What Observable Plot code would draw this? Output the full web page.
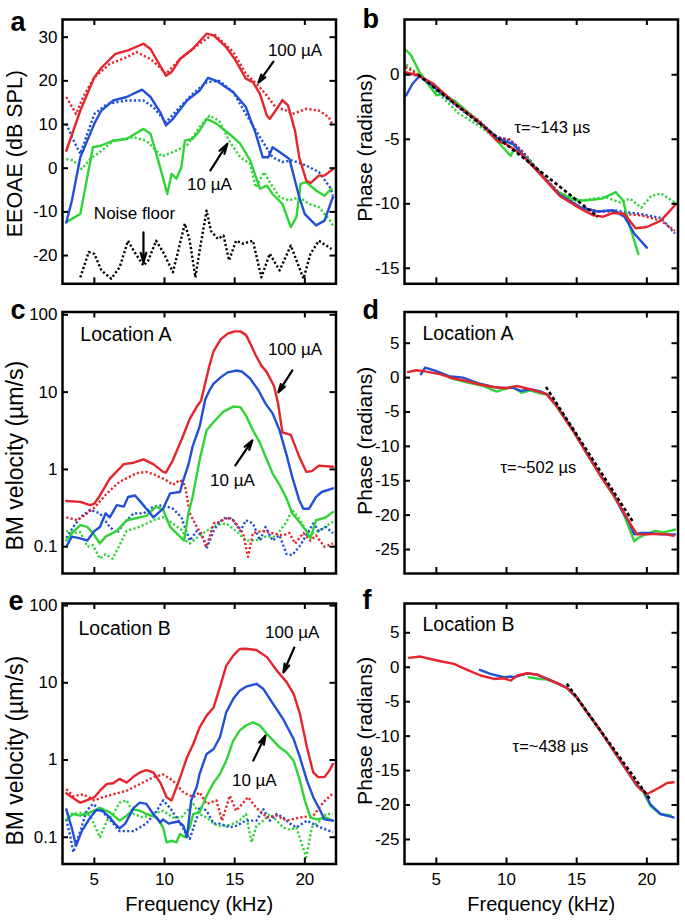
<!DOCTYPE html>
<html><head><meta charset="utf-8">
<script src="https://cdn.jsdelivr.net/npm/d3@7"></script>
<script src="https://cdn.jsdelivr.net/npm/@observablehq/plot@0.6"></script>
<style>
body{margin:0;background:#fff;}
#wrap{position:relative;width:685px;height:921px;overflow:hidden;background:#fff;}
#wrap svg{position:absolute;}
</style></head><body><div id="wrap"></div>
<script>
// ---------------- data (frequency kHz, value) ----------------
const xTicks = [5, 10, 15, 20];

// Panel a: EEOAE (dB SPL)
const aRed = [[3.0,4],[4.0,13.2],[5,20.8],[5.5,23],[6.5,26.2],[7.4,27],[8.5,28.5],[9,27.3],[10.1,21.2],[10.5,22],[11.1,25],[12,27.3],[13,30.8],[13.5,30.4],[14.4,27.7],[15,25],[15.8,20.5],[16.3,19.7],[16.8,17],[17.3,12],[17.5,11.3],[18,13.6],[18.4,15.6],[18.8,14.4],[19.3,8.6],[19.6,2.5],[20.1,-2.8],[20.4,-3.4],[21,-1.7],[21.4,-1.7],[22,-0.2]];
const aRedDot = [[3.0,16.3],[3.7,12.4],[4.2,16.3],[5,20.8],[6.1,23.9],[7.3,25.4],[8,26.6],[9,25],[9.7,23],[10.1,21.6],[11.1,25],[12.5,28.5],[13.5,30.8],[14.9,26.6],[15.8,21.6],[16.8,18.5],[17.3,16.6],[17.9,14],[18.7,13.2],[19.1,12.4],[20.1,13.6],[21,13.2],[21.7,11.7],[22,9.8]];
const aBlue = [[3.0,-12.4],[3.4,-7.4],[4,2.5],[5,10.2],[5.5,13.2],[6.35,15.5],[7.3,16.3],[8.4,18],[9,16.3],[9.7,12.8],[10.1,9.8],[10.6,11.3],[11.6,15.5],[12.5,17.8],[13.1,20.7],[13.7,20],[14.9,17.4],[15.8,14],[16.5,7.9],[17,2.5],[17.4,2.5],[17.7,4.8],[18.2,3.7],[18.9,2.1],[19.6,-6.6],[20,-10.5],[20.8,-13.1],[21.4,-12],[22,-6.6]];
const aBlueDot = [[3.0,10.2],[3.4,7.1],[4,3.3],[4.5,7.9],[5,12.4],[5.9,14.7],[7.3,15.5],[8.5,15.5],[9.2,14],[10.1,10.5],[11.1,14],[12,17],[13,19.7],[13.9,20],[14.9,17.4],[15.8,12.4],[16.8,7.1],[17.7,2.5],[18.4,1.4],[19.1,1.8],[20.1,0.6],[21,-0.9],[21.8,-4.4],[22,-6.3]];
const aGreen = [[3.0,-12.4],[3.4,-11.6],[4,-10.5],[4.9,4.8],[5.5,5.2],[6.35,6.3],[7.3,6.7],[8.5,9],[9,7.9],[9.55,1.8],[10.2,-5.9],[10.5,-1.3],[10.85,-2.4],[11.2,0.2],[11.45,6.3],[12,6.7],[12.5,8.6],[13,11.3],[13.7,10.2],[14.6,7.9],[15.4,5.6],[16.1,1.8],[16.8,-4.7],[17.3,-4],[17.7,-5.9],[18.4,-8.2],[19,-13.5],[19.4,-11.2],[19.7,-3.6],[20.1,-3.2],[20.8,-5.1],[21.4,-6.3],[21.9,-4.7]];
const aGreenDot = [[3.0,2.1],[3.5,1.8],[4.1,-0.2],[4.7,2.1],[5.4,3.7],[6.35,6.3],[7.8,7.1],[8.7,6.3],[9.4,4],[9.8,2.7],[10.6,3.7],[11.6,5.2],[12.5,9.4],[13.2,12],[13.9,10.9],[14.6,6.3],[15.4,2.5],[16.1,1],[16.5,-4.4],[17.1,-0.9],[17.5,-3.2],[18.2,-6.6],[18.9,-7.4],[19.6,-6.6],[20.3,-8.2],[21,-8.9],[21.8,-12],[22,-13.1]];
const aNoise = [[4,-25],[4.6,-19.2],[5,-19.6],[5.5,-23.4],[6.2,-25.3],[6.8,-22.7],[7.4,-16.6],[7.8,-18.9],[8.5,-22.3],[8.85,-21.1],[9.4,-16.6],[9.9,-19.2],[10.6,-23.8],[11.45,-12.7],[11.8,-16.6],[12.2,-25],[12.5,-18.9],[13,-9.7],[13.3,-14.3],[13.8,-16.2],[14.2,-15.4],[14.6,-21.1],[15.1,-16.6],[15.6,-17.3],[16.3,-16.6],[16.9,-25],[17.5,-19.6],[18.2,-23.4],[19,-17.7],[19.9,-25.3],[20.4,-19.6],[21,-16.6],[21.9,-18.5]];

// Panel b: phase (radians)
const bRed = [[2.8,0.2],[3.8,-0.1],[4.8,-0.7],[6.4,-2.3],[8.1,-3.7],[9.3,-5.1],[10,-5.4],[11,-6.1],[12.4,-7.7],[13.8,-9.4],[15.3,-10.4],[16.2,-10.9],[16.9,-11],[17.6,-10.7],[18.4,-10.8],[19.2,-11.9],[20,-11.8],[21,-11.3],[22.1,-10]];
const bRedDot = [[2.8,0.6],[3.8,-0.05],[4.8,-0.8],[6.4,-2.2],[8.1,-3.6],[9.3,-4.9],[10.2,-5.0],[11,-5.8],[12.4,-7.6],[13.8,-9.2],[15.3,-10.3],[16.5,-10.6],[17.6,-10.6],[18.6,-10.8],[19.6,-10.9],[21,-11.3],[22,-12.1]];
const bBlue = [[2.85,-1.6],[3.3,-0.7],[3.8,-0.1],[4.8,-0.9],[6.4,-2.3],[8.1,-3.7],[9.3,-4.9],[10.5,-5.4],[12.4,-7.7],[13.8,-9.3],[15.3,-10.3],[16.5,-10.6],[17.6,-10.5],[18.4,-11],[19.1,-12.3],[20,-13.4]];
const bBlueDot = [[2.8,0.1],[3.8,-0.1],[4.8,-1],[6.4,-2.4],[8.1,-3.8],[9.3,-4.8],[10.3,-5.1],[11.2,-6],[12.4,-7.6],[13.8,-9.3],[15.3,-10.3],[16.5,-10.6],[17.6,-10.5],[19.6,-10.8],[21,-11.1],[22,-12.3]];
const bGreen = [[2.85,1.9],[3.2,1.5],[3.8,0.2],[4.5,-0.85],[5,-1.6],[5.5,-1.5],[6.4,-2.1],[8.1,-3.7],[9.3,-5.1],[10.3,-6.3],[10.5,-5.8],[11.4,-6.4],[13.5,-9],[14.9,-9.75],[15.6,-9.75],[16.8,-9.6],[17.8,-9.1],[18.3,-9.75],[18.8,-11.8],[19.4,-13.9]];
const bGreenDot = [[2.85,0.8],[3.8,-0.1],[5.2,-1.5],[6.6,-3],[8.1,-4],[9.3,-5],[10.3,-5.3],[11.4,-6.3],[13.5,-9],[15.2,-9.75],[16.2,-9.6],[17.1,-9.5],[18.1,-9.9],[18.8,-9.6],[19.6,-10.3],[20.3,-9.4],[21,-9.2],[22,-9.9]];
const bFit = [[3.7,0],[16.5,-11]];

// Panel c: BM velocity, location A (µm/s)
const cRed = [[3.0,0.39],[4.0,0.38],[4.7,0.345],[5,0.36],[5.4,0.46],[6.1,0.76],[7.1,1.17],[7.8,1.22],[8.5,1.35],[9.2,1.17],[9.9,0.93],[10.1,0.91],[10.6,1.32],[11.3,2.65],[11.8,4.5],[12.3,6.5],[12.6,7.7],[12.9,13],[13.2,22],[13.5,34],[14.0,48],[14.5,57],[15.0,61],[15.4,61],[15.8,55],[16.1,43],[16.5,30],[16.9,22],[17.3,18],[17.8,12],[18.1,7],[18.4,3.0],[18.7,2.9],[19,2.8],[19.6,1.46],[20.1,0.93],[20.5,0.95],[21,1.12],[22,1.08]];
const cRedDot = [[3.0,0.24],[3.8,0.22],[4.5,0.27],[5,0.32],[5.9,0.49],[6.8,0.69],[8,0.89],[8.7,0.93],[9.4,0.84],[10.1,0.73],[10.6,0.63],[11.1,0.73],[11.45,0.63],[11.8,0.27],[12.3,0.18],[12.6,0.15],[13,0.1],[13.5,0.2],[13.9,0.21],[14.6,0.24],[15,0.21],[15.6,0.15],[15.95,0.074],[16.3,0.15],[17,0.16],[17.7,0.15],[18.4,0.14],[18.9,0.15],[19.3,0.11],[19.9,0.15],[20.4,0.12],[20.8,0.14],[21.4,0.1],[22,0.11]];
const cBlue = [[3.0,0.1],[3.4,0.135],[4,0.128],[4.5,0.12],[5,0.16],[5.4,0.18],[5.8,0.27],[6.1,0.24],[6.6,0.345],[7.1,0.33],[7.4,0.44],[7.9,0.46],[8.3,0.38],[8.7,0.31],[9.2,0.24],[9.9,0.31],[10.4,0.49],[11.1,0.51],[11.3,0.69],[11.7,1.14],[12,1.97],[12.5,3.57],[12.9,8],[13.2,10.5],[13.5,12.9],[14,15.5],[14.5,18],[15.1,19],[15.5,18.5],[16.1,15],[16.7,10.5],[17.2,7.1],[17.7,5.3],[18.2,3.2],[18.7,1.53],[19.1,0.8],[19.6,0.4],[19.9,0.31],[20.3,0.31],[20.8,0.44],[21.2,0.51],[22,0.57]];
const cBlueDot = [[3.0,0.13],[3.5,0.18],[4,0.24],[4.7,0.3],[5.4,0.27],[6.1,0.18],[6.6,0.15],[7.1,0.2],[7.8,0.27],[8.5,0.27],[9.2,0.33],[9.9,0.345],[10.6,0.31],[11.2,0.24],[11.8,0.12],[12.3,0.16],[12.7,0.135],[13,0.095],[13.5,0.16],[13.9,0.21],[14.4,0.24],[14.9,0.22],[15.4,0.16],[15.8,0.22],[16.3,0.2],[16.8,0.12],[17.2,0.18],[17.7,0.12],[18.2,0.14],[18.7,0.08],[19.1,0.078],[19.6,0.1],[20.1,0.14],[20.6,0.2],[21,0.16],[21.5,0.18],[22,0.15]];
const cGreen = [[3.0,0.12],[3.5,0.156],[4,0.19],[4.5,0.18],[4.9,0.15],[5.4,0.11],[5.8,0.135],[6.6,0.16],[7.3,0.22],[7.8,0.23],[8.7,0.25],[9.4,0.33],[9.9,0.3],[10.4,0.18],[11.1,0.135],[11.4,0.12],[11.7,0.27],[12,0.44],[12.5,1.32],[13,3.2],[13.5,4.1],[14.2,5.6],[14.9,6.5],[15.4,6.4],[15.8,5],[16.3,3.2],[16.8,2.2],[17.2,1.46],[17.7,0.89],[18.2,0.63],[18.7,0.42],[19.1,0.27],[19.6,0.21],[20.1,0.16],[20.4,0.128],[20.8,0.22],[21.5,0.24],[22,0.28]];
const cGreenDot = [[3.0,0.16],[3.5,0.15],[4,0.155],[4.5,0.1],[4.9,0.105],[5.4,0.07],[5.8,0.08],[6.3,0.07],[6.8,0.105],[7.3,0.16],[8.2,0.18],[9.2,0.22],[9.9,0.24],[10.6,0.2],[11.3,0.16],[11.5,0.12],[11.8,0.11],[12.3,0.13],[13,0.16],[13.7,0.19],[14.4,0.2],[15.1,0.16],[15.8,0.12],[16.5,0.12],[17.2,0.135],[17.9,0.135],[18.7,0.21],[19.1,0.3],[19.6,0.23],[20.1,0.16],[20.6,0.15],[21,0.16],[22,0.21]];

// Panel d: phase, location A
const dRed = [[2.98,0.8],[3.57,1.07],[4.29,0.87],[5.24,0.5],[6.19,-0.1],[7.14,-0.5],[8.1,-1],[9.05,-1.36],[10,-1.55],[10.7,-1.2],[11.4,-1.55],[12.1,-1.94],[12.86,-2.4],[13.57,-4.1],[14.76,-7.8],[15.7,-11.0],[16.67,-14.2],[17.6,-17.0],[18.3,-19.4],[18.8,-21.2],[19.3,-22.8],[20,-22.8],[20.7,-22.7],[21.4,-22.8],[21.9,-23]];
const dBlue = [[3.9,0.5],[4.2,1.46],[4.9,1],[5.9,0.2],[6.9,0],[8.1,-0.9],[9.3,-1.46],[10.5,-1.5],[11,-1.94],[11.7,-1.7],[12.4,-2],[12.86,-2.4],[13.57,-4.1],[14.76,-7.7],[15.7,-10.9],[16.67,-14.1],[17.6,-16.9],[18.3,-19.6],[18.7,-20.9],[19.1,-22.8],[19.6,-22.6],[20.1,-22.6],[21,-22.8],[22,-22.8]];
const dGreen = [[5.95,-0.05],[7.14,-0.7],[8.33,-1.2],[9.29,-2.04],[10,-1.55],[10.48,-1.36],[11.07,-2.2],[11.67,-1.85],[12.38,-2.3],[12.86,-2.45],[13.57,-4.2],[14.76,-7.8],[15.7,-11.0],[16.67,-14.2],[17.6,-17.1],[18.3,-19.6],[18.8,-22.2],[19.1,-23.8],[19.4,-23.3],[19.9,-22.8],[20.6,-22.3],[21.2,-22.5],[22,-22.1]];
const dFit = [[12.81,-1.36],[19.05,-21.1]];

// Panel e: BM velocity, location B (µm/s)
const eRed = [[3.0,0.37],[3.4,0.33],[4.0,0.28],[4.45,0.3],[5.0,0.33],[5.4,0.4],[5.9,0.49],[6.35,0.5],[6.8,0.57],[7.3,0.51],[7.8,0.61],[8.25,0.69],[8.7,0.74],[9.2,0.69],[9.7,0.51],[10.15,0.33],[10.5,0.3],[10.85,0.44],[11.2,0.66],[11.6,1.08],[12.05,1.61],[12.5,2.65],[13,3.76],[13.5,4.8],[13.95,8.8],[14.4,16.7],[14.9,22.5],[15.35,27.4],[15.8,27.6],[16.55,26.6],[17.3,21.5],[18,14.4],[18.7,10.2],[19.2,7.2],[19.65,3.95],[20.15,1.46],[20.6,0.69],[20.95,0.6],[21.4,0.6],[21.75,0.73],[22,0.89]];
const eRedDot = [[3.0,0.42],[3.5,0.34],[4.2,0.36],[5.0,0.3],[5.6,0.33],[6.35,0.36],[7.3,0.4],[8.25,0.49],[9.2,0.6],[9.9,0.65],[10.6,0.54],[11.35,0.38],[12.05,0.33],[12.5,0.38],[13,0.27],[13.7,0.3],[14.1,0.164],[14.65,0.345],[15.1,0.22],[15.95,0.33],[16.55,0.24],[17.3,0.18],[18,0.19],[18.7,0.164],[19.65,0.18],[20.6,0.19],[21.3,0.28],[22,0.37]];
const eBlue = [[3.0,0.23],[3.4,0.13],[3.7,0.078],[4.1,0.12],[4.7,0.18],[5.15,0.225],[5.6,0.22],[6.1,0.18],[6.45,0.15],[6.8,0.13],[7.2,0.15],[7.8,0.24],[8.25,0.28],[8.7,0.27],[9.2,0.2],[9.7,0.155],[9.9,0.17],[10.3,0.15],[10.6,0.155],[11,0.16],[11.35,0.14],[11.6,0.1],[11.9,0.3],[12.3,0.45],[12.5,0.66],[13,1.2],[13.5,1.39],[13.95,1.97],[14.4,4.15],[14.9,6.2],[15.35,7.9],[15.8,8.9],[16.55,9.7],[17.05,8.3],[17.75,5.3],[18.45,3.4],[19.2,1.87],[19.65,1.08],[20.15,0.54],[20.6,0.33],[21.1,0.22],[21.4,0.17],[22,0.164]];
const eBlueDot = [[3.0,0.17],[3.3,0.1],[3.5,0.064],[4.0,0.12],[4.45,0.22],[4.9,0.27],[5.4,0.23],[6.1,0.17],[6.8,0.12],[7.8,0.12],[8.7,0.15],[9.45,0.22],[9.9,0.3],[10.4,0.24],[10.85,0.18],[11.45,0.12],[11.8,0.095],[12.3,0.18],[12.5,0.25],[13,0.22],[13.5,0.15],[13.95,0.15],[14.65,0.134],[15.1,0.14],[15.8,0.164],[16.55,0.164],[17.05,0.23],[17.5,0.164],[18,0.2],[18.45,0.18],[18.95,0.15],[19.4,0.134],[20.15,0.164],[21.1,0.134],[22,0.116]];
const eGreen = [[3.0,0.17],[3.5,0.2],[4.0,0.19],[4.7,0.21],[5.4,0.24],[6.1,0.21],[6.8,0.164],[7.3,0.19],[7.8,0.23],[8.25,0.22],[8.7,0.2],[9.45,0.18],[9.9,0.134],[10.15,0.086],[10.5,0.09],[10.85,0.086],[11.1,0.11],[11.45,0.1],[11.8,0.134],[12.05,0.2],[12.5,0.21],[13,0.345],[13.5,0.51],[13.95,0.66],[14.4,0.98],[14.9,1.78],[15.35,2.4],[15.8,2.8],[16.3,3.07],[16.8,2.8],[17.3,2.17],[17.75,1.78],[18.2,1.46],[18.7,1.26],[19.2,0.98],[19.65,0.54],[20,0.3],[20.4,0.18],[20.85,0.17],[21.5,0.18],[22,0.164]];
const eGreenDot = [[3.0,0.2],[3.5,0.2],[4.2,0.21],[4.7,0.19],[5.4,0.1],[5.9,0.164],[6.35,0.2],[6.8,0.28],[7.3,0.3],[7.8,0.2],[8.5,0.18],[9.2,0.2],[9.9,0.22],[10.6,0.18],[11.2,0.18],[11.6,0.22],[12.05,0.27],[12.5,0.2],[13,0.18],[13.5,0.15],[13.95,0.14],[14.4,0.14],[14.9,0.15],[15.35,0.164],[15.8,0.2],[16.2,0.086],[16.55,0.14],[17.05,0.164],[17.5,0.2],[18,0.164],[18.45,0.134],[18.95,0.125],[19.4,0.134],[19.8,0.08],[20.1,0.055],[20.5,0.134],[21.1,0.164],[21.5,0.2],[22,0.2]];

// Panel f: phase, location B
const fRed = [[3.04,1.36],[3.87,1.55],[4.58,1.2],[5.3,0.87],[6.25,0.48],[7.2,-0.39],[8.15,-1.2],[9.1,-1.7],[9.81,-1.6],[10.3,-1.94],[10.77,-1.2],[11.48,-0.87],[12.2,-1.07],[12.9,-1.7],[13.6,-2.3],[14.3,-3],[15,-4.36],[15.73,-6.5],[16.68,-9.2],[17.63,-12.1],[18.58,-15],[19.53,-17.7],[20,-18.4],[20.5,-17.9],[20.96,-17.4],[21.44,-16.8],[21.9,-16.7]];
const fBlue = [[8.1,-0.39],[8.86,-0.97],[9.81,-1.45],[10.3,-1.35],[10.5,-1.45],[11.48,-0.9],[12.2,-1.1],[12.9,-1.7],[13.6,-2.3],[14.3,-3],[15,-4.4],[15.73,-6.5],[16.68,-9.2],[17.63,-12.1],[18.58,-15],[19.3,-17.2],[19.77,-17.9],[20.25,-19.9],[20.96,-21.3],[21.9,-21.8]];
const fGreen = [[11.6,-1.45],[12.4,-1.7],[12.9,-1.8],[13.6,-2.3],[14.3,-3],[15,-4.4],[15.73,-6.5],[16.68,-9.2],[17.63,-12.1],[18.58,-15],[19.3,-17.2],[19.65,-17.7],[20.25,-20.1],[20.96,-21.3],[21.7,-21.5]];
const fFit = [[14.3,-2.4],[20.2,-19.1]];

// tick labels
const aYTicks = [-20, -10, 0, 10, 20, 30];
const bYTicks = [-15, -10, -5, 0];
const logTicks = [0.1, 1, 10, 100];
const phaseTicks = [-25, -20, -15, -10, -5, 0, 5];

// annotations
const aTexts = [{x:19.3, y:27, t:"100 µA"}, {x:13.2, y:-3.7, t:"10 µA"}, {x:7.86, y:-10.4, t:"Noise floor"}];
const aArrows = [{x1:17.76,y1:24.4,x2:16.69,y2:19.6},{x1:13.27,y1:-0.5,x2:14.48,y2:5.6},{x1:8.5,y1:-14.7,x2:8.5,y2:-21.6}];
const bTexts = [{x:13.27, y:-4.1, t:"τ=~143 µs"}];
const cTexts = [{x:19.3, y:35.8, t:"100 µA"}, {x:14.84, y:0.72, t:"10 µA"}];
const cArrows = [{x1:19.11,y1:19.1,x2:18.11,y2:9.93},{x1:15.05,y1:1.13,x2:16.26,y2:2.38}];
const dTexts = [{x:12.27, y:-13.1, t:"τ=~502 µs"}];
const eTexts = [{x:19.1, y:44.9, t:"100 µA"}, {x:16.4, y:0.54, t:"10 µA"}];
const eArrows = [{x1:19.25,y1:28.6,x2:18.47,y2:13.6},{x1:16.33,y1:0.985,x2:17.19,y2:2.07}];
const fTexts = [{x:13.13, y:-11.6, t:"τ=~438 µs"}];

// ---------------- drawing ----------------
const RED = "#e5242b", BLUE = "#2150d8", GREEN = "#30d438";
const FONT = "'Liberation Sans', Arial, Helvetica, sans-serif";
const xDomain = [2.73, 22.22];
const fmt = d => String(d);

function panel(cfg) {
  const fw = cfg.width - cfg.ml - cfg.mr;
  const fh = cfg.height - cfg.mt - cfg.mb;
  const marks = [];
  for (const s of cfg.series) {
    marks.push(Plot.line(s.data, {
      x: d => d[0], y: d => d[1], stroke: s.color,
      strokeWidth: 2.4,
      strokeDasharray: s.dot ? "2.2,2.2" : undefined,
      strokeLinecap: s.dot ? "butt" : "round",
      strokeLinejoin: "round", clip: true
    }));
  }
  if (cfg.fit) marks.push(Plot.line(cfg.fit, {x: d => d[0], y: d => d[1], stroke: "black", strokeWidth: 2.6, strokeDasharray: "3.5,2.5", strokeLinecap: "butt"}));
  marks.push(Plot.frame({stroke: "black", strokeWidth: 2.5}));
  // inward ticks on four sides
  marks.push(Plot.ruleX(xTicks, {insetTop: fh - 6, strokeWidth: 2}));
  marks.push(Plot.ruleX(xTicks, {insetBottom: fh - 6, strokeWidth: 2}));
  marks.push(Plot.ruleY(cfg.yTicks, {insetRight: fw - 6, strokeWidth: 2}));
  marks.push(Plot.ruleY(cfg.yTicks, {insetLeft: fw - 6, strokeWidth: 2}));
  // y tick labels
  marks.push(Plot.text(cfg.yTicks, {y: d => d, text: fmt, frameAnchor: "left", textAnchor: "end", dx: -5, lineAnchor: "middle", fontSize: 17}));
  if (cfg.showX) {
    marks.push(Plot.text(xTicks, {x: d => d, text: fmt, frameAnchor: "bottom", lineAnchor: "top", dy: 9, fontSize: 17}));
    marks.push(Plot.text(["Frequency (kHz)"], {frameAnchor: "bottom", lineAnchor: "top", dy: 33, fontSize: 20}));
  }
  // y label
  marks.push(Plot.text([cfg.ylabel], {frameAnchor: "left", rotate: -90, dx: cfg.ylDx, dy: cfg.ylDy, lineAnchor: "middle", textAnchor: "middle", fontSize: cfg.ylSize}));
  // panel letter
  marks.push(Plot.text([cfg.letter], {frameAnchor: "top-left", dx: cfg.lDx, dy: cfg.lDy, lineAnchor: "bottom", textAnchor: "start", fontSize: 27, fontWeight: "bold"}));
  if (cfg.loc) marks.push(Plot.text([cfg.loc], {x: () => cfg.locX, y: () => cfg.locY, text: d => d, textAnchor: "start", lineAnchor: "middle", fontSize: 19.5}));
  if (cfg.texts) marks.push(Plot.text(cfg.texts, {x: "x", y: "y", text: "t", lineAnchor: "middle", fontSize: cfg.textSize || 17}));
  if (cfg.arrows) marks.push(Plot.arrow(cfg.arrows, {x1: "x1", y1: "y1", x2: "x2", y2: "y2", stroke: "black", strokeWidth: 2.2, headLength: 9, headAngle: 32}));

  const svg = Plot.plot({
    width: cfg.width, height: cfg.height,
    marginLeft: cfg.ml, marginRight: cfg.mr, marginTop: cfg.mt, marginBottom: cfg.mb,
    style: {fontFamily: FONT, fontSize: "17px", color: "black", background: "transparent", overflow: "visible"},
    x: {domain: xDomain, axis: null},
    y: {type: cfg.yType, domain: cfg.yDomain, axis: null},
    marks
  });
  svg.style.position = "absolute";
  svg.style.left = cfg.left + "px";
  svg.style.top = cfg.top + "px";
  document.getElementById("wrap").appendChild(svg);
}

const L = {left: 0, width: 340, ml: 62, mr: 4.5};
const R = {left: 340, width: 345, ml: 64, mr: 7.5};
const R1 = {top: 0, height: 297, mt: 19, mb: 13.7};
const R2 = {top: 297, height: 293, mt: 14.5, mb: 17};
const R3 = {top: 590, height: 331, mt: 13, mb: 57.5};

panel({...L, ...R1, letter: "a", lDx: -52, lDy: 11, yType: "linear", yDomain: [-26.47, 34.05], yTicks: aYTicks,
  ylabel: "EEOAE (dB SPL)", ylDx: -47, ylDy: 2, ylSize: 21.5,
  series: [
    {data: aNoise, color: "black", dot: true},
    {data: aGreenDot, color: GREEN, dot: true}, {data: aBlueDot, color: BLUE, dot: true}, {data: aRedDot, color: RED, dot: true},
    {data: aGreen, color: GREEN}, {data: aBlue, color: BLUE}, {data: aRed, color: RED}],
  texts: aTexts, arrows: aArrows});

panel({...R, ...R1, letter: "b", lDx: -42, lDy: 8, yType: "linear", yDomain: [-16.2, 4.28], yTicks: bYTicks,
  ylabel: "Phase (radians)", ylDx: -39.5, ylDy: -4, ylSize: 21,
  series: [
    {data: bGreenDot, color: GREEN, dot: true}, {data: bBlueDot, color: BLUE, dot: true}, {data: bRedDot, color: RED, dot: true},
    {data: bGreen, color: GREEN}, {data: bBlue, color: BLUE}, {data: bRed, color: RED}],
  fit: bFit, texts: bTexts, textSize: 16.5});

panel({...L, ...R2, letter: "c", lDx: -52, lDy: 7, yType: "log", yDomain: [0.045, 108.7], yTicks: logTicks,
  ylabel: "BM velocity (µm/s)", ylDx: -47, ylDy: 13, ylSize: 23,
  series: [
    {data: cGreenDot, color: GREEN, dot: true}, {data: cBlueDot, color: BLUE, dot: true}, {data: cRedDot, color: RED, dot: true},
    {data: cGreen, color: GREEN}, {data: cBlue, color: BLUE}, {data: cRed, color: RED}],
  loc: "Location A", locX: 4.0, locY: 56, texts: cTexts, arrows: cArrows});

panel({...R, ...R2, letter: "d", lDx: -42, lDy: 7, yType: "linear", yDomain: [-28.49, 9.54], yTicks: phaseTicks,
  ylabel: "Phase (radians)", ylDx: -39.5, ylDy: -2, ylSize: 21,
  series: [{data: dGreen, color: GREEN}, {data: dBlue, color: BLUE}, {data: dRed, color: RED}],
  fit: dFit, loc: "Location A", locX: 4.01, locY: 6.35, texts: dTexts, textSize: 16.5});

panel({...L, ...R3, letter: "e", lDx: -54, lDy: 6, yType: "log", yDomain: [0.045, 106.4], yTicks: logTicks,
  ylabel: "BM velocity (µm/s)", ylDx: -47, ylDy: 17, ylSize: 23, showX: true,
  series: [
    {data: eGreenDot, color: GREEN, dot: true}, {data: eBlueDot, color: BLUE, dot: true}, {data: eRedDot, color: RED, dot: true},
    {data: eGreen, color: GREEN}, {data: eBlue, color: BLUE}, {data: eRed, color: RED}],
  loc: "Location B", locX: 3.87, locY: 50.5, texts: eTexts, arrows: eArrows});

panel({...R, ...R3, letter: "f", lDx: -42, lDy: 5, yType: "linear", yDomain: [-28.56, 9.25], yTicks: phaseTicks,
  ylabel: "Phase (radians)", ylDx: -39.5, ylDy: -3, ylSize: 21, showX: true,
  series: [{data: fGreen, color: GREEN}, {data: fBlue, color: BLUE}, {data: fRed, color: RED}],
  fit: fFit, loc: "Location B", locX: 4.01, locY: 6.1, texts: fTexts, textSize: 16.5});
</script></body></html>
